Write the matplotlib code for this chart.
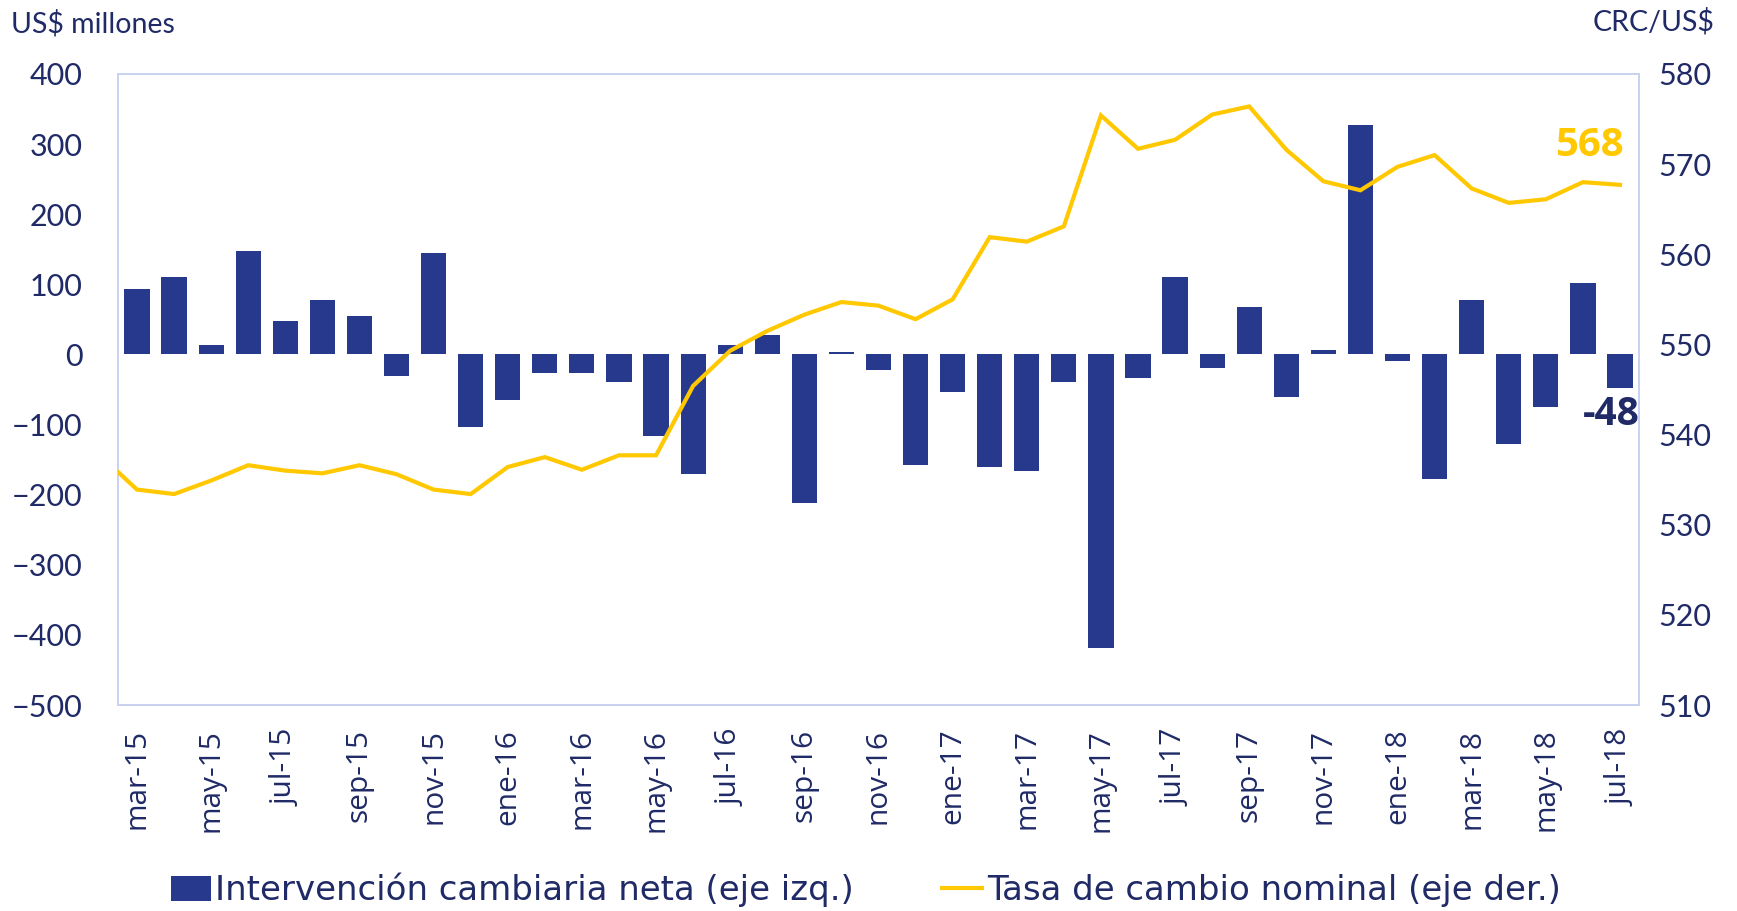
import matplotlib
matplotlib.use("Agg")
import matplotlib.pyplot as plt
from matplotlib.patches import Patch
from matplotlib.lines import Line2D

# ---- data ----
meses = ["mar-15", "abr-15", "may-15", "jun-15", "jul-15", "ago-15", "sep-15", "oct-15",
         "nov-15", "dic-15", "ene-16", "feb-16", "mar-16", "abr-16", "may-16", "jun-16",
         "jul-16", "ago-16", "sep-16", "oct-16", "nov-16", "dic-16", "ene-17", "feb-17",
         "mar-17", "abr-17", "may-17", "jun-17", "jul-17", "ago-17", "sep-17", "oct-17",
         "nov-17", "dic-17", "ene-18", "feb-18", "mar-18", "abr-18", "may-18", "jun-18",
         "jul-18"]
intervencion = [93, 111, 14, 147, 47, 77, 55, -31, 145, -104, -65, -26, -26, -40, -116,
                -171, 14, 28, -212, 4, -22, -157, -53, -161, -166, -40, -418, -33, 111,
                -20, 68, -61, 6, 327, -10, -178, 77, -128, -75, 102, -48]
tasa_feb15 = 537.7
tasa = [533.9, 533.4, 534.9, 536.6, 536.0, 535.7, 536.6, 535.6, 533.9, 533.4, 536.4,
        537.5, 536.1, 537.7, 537.7, 545.4, 549.3, 551.5, 553.3, 554.7, 554.3, 552.8,
        555.0, 561.9, 561.4, 563.1, 575.4, 571.7, 572.7, 575.5, 576.4, 571.6, 568.1,
        567.1, 569.7, 571.0, 567.3, 565.7, 566.1, 568.0, 567.7]

NAVY = "#27398C"
GOLD = "#FFC800"
TXT = "#1F2A66"
FRAME = "#CAD2F2"
FONT = "Lato"
FONT2 = "Open Sans"

plt.rcParams["font.family"] = [FONT, "DejaVu Sans"]

fig = plt.figure(figsize=(17.37, 9.11), dpi=100)
ax = fig.add_axes([0.0682, 0.2261, 0.9433 - 0.0682, 0.9188 - 0.2261])
ax2 = ax.twinx()

x = list(range(len(meses)))
ax.bar(x, intervencion, width=0.68, color=NAVY, zorder=2)
ax.set_xlim(-0.5, len(meses) - 0.5)
ax.set_ylim(-500, 400)
ax.set_yticks(range(-500, 401, 100))

xl = [-1] + x
ax2.plot(xl, [tasa_feb15] + tasa, color=GOLD, lw=3.0, solid_joinstyle="miter", zorder=3)
ax2.set_ylim(510, 580)
ax2.set_yticks(range(510, 581, 10))

ax.set_zorder(ax2.get_zorder() - 1)
ax.patch.set_visible(True)
ax2.patch.set_visible(False)

for a in (ax, ax2):
    for s in a.spines.values():
        s.set_color(FRAME)
        s.set_linewidth(1.3)
    a.tick_params(length=0, colors=TXT)

ax.tick_params(axis="y", labelsize=22, pad=26)
ax2.tick_params(axis="y", labelsize=22, pad=14)
ax.set_xticks(x[::2])
ax.set_xticklabels(meses[::2], rotation=90, fontsize=21.5, color=TXT,
                   family=[FONT2, "DejaVu Sans"])
ax.tick_params(axis="x", pad=17)

# labels for last values
ax.annotate(f"{intervencion[-1]:d}", xy=(x[-1], intervencion[-1]), xytext=(-6, -5),
            textcoords="offset points", ha="center", va="top", fontsize=28,
            fontweight="bold", color=TXT, family=[FONT2, "DejaVu Sans"])
ax2.annotate(f"{round(tasa[-1]):d}", xy=(x[-1], tasa[-1]), xytext=(3, 14),
             textcoords="offset points", ha="right", va="bottom", fontsize=29,
             fontweight="bold", color=GOLD, family=[FONT2, "DejaVu Sans"])

fig.text(11 / 1737, 1 - 24 / 911, "US$ millones", fontsize=20.5, color=TXT, va="center", ha="left")
fig.text(1715 / 1737, 1 - 22 / 911, "CRC/US$", fontsize=20.5, color=TXT, va="center", ha="right")

handles = [Patch(facecolor=NAVY, edgecolor="none"),
           Line2D([0], [0], color=GOLD, lw=3)]
labels = ["Intervención cambiaria neta (eje izq.)", "Tasa de cambio nominal (eje der.)"]
leg = fig.legend(handles, labels, loc="center", bbox_to_anchor=(0.4984, 0.023), ncol=2,
                 frameon=False, prop={"family": ["DejaVu Sans"], "size": 24.5},
                 handlelength=1.17, handleheight=0.75,
                 handletextpad=0.13, columnspacing=2.6)
for t in leg.get_texts():
    t.set_color(TXT)

fig.savefig("out.png", dpi=100)
